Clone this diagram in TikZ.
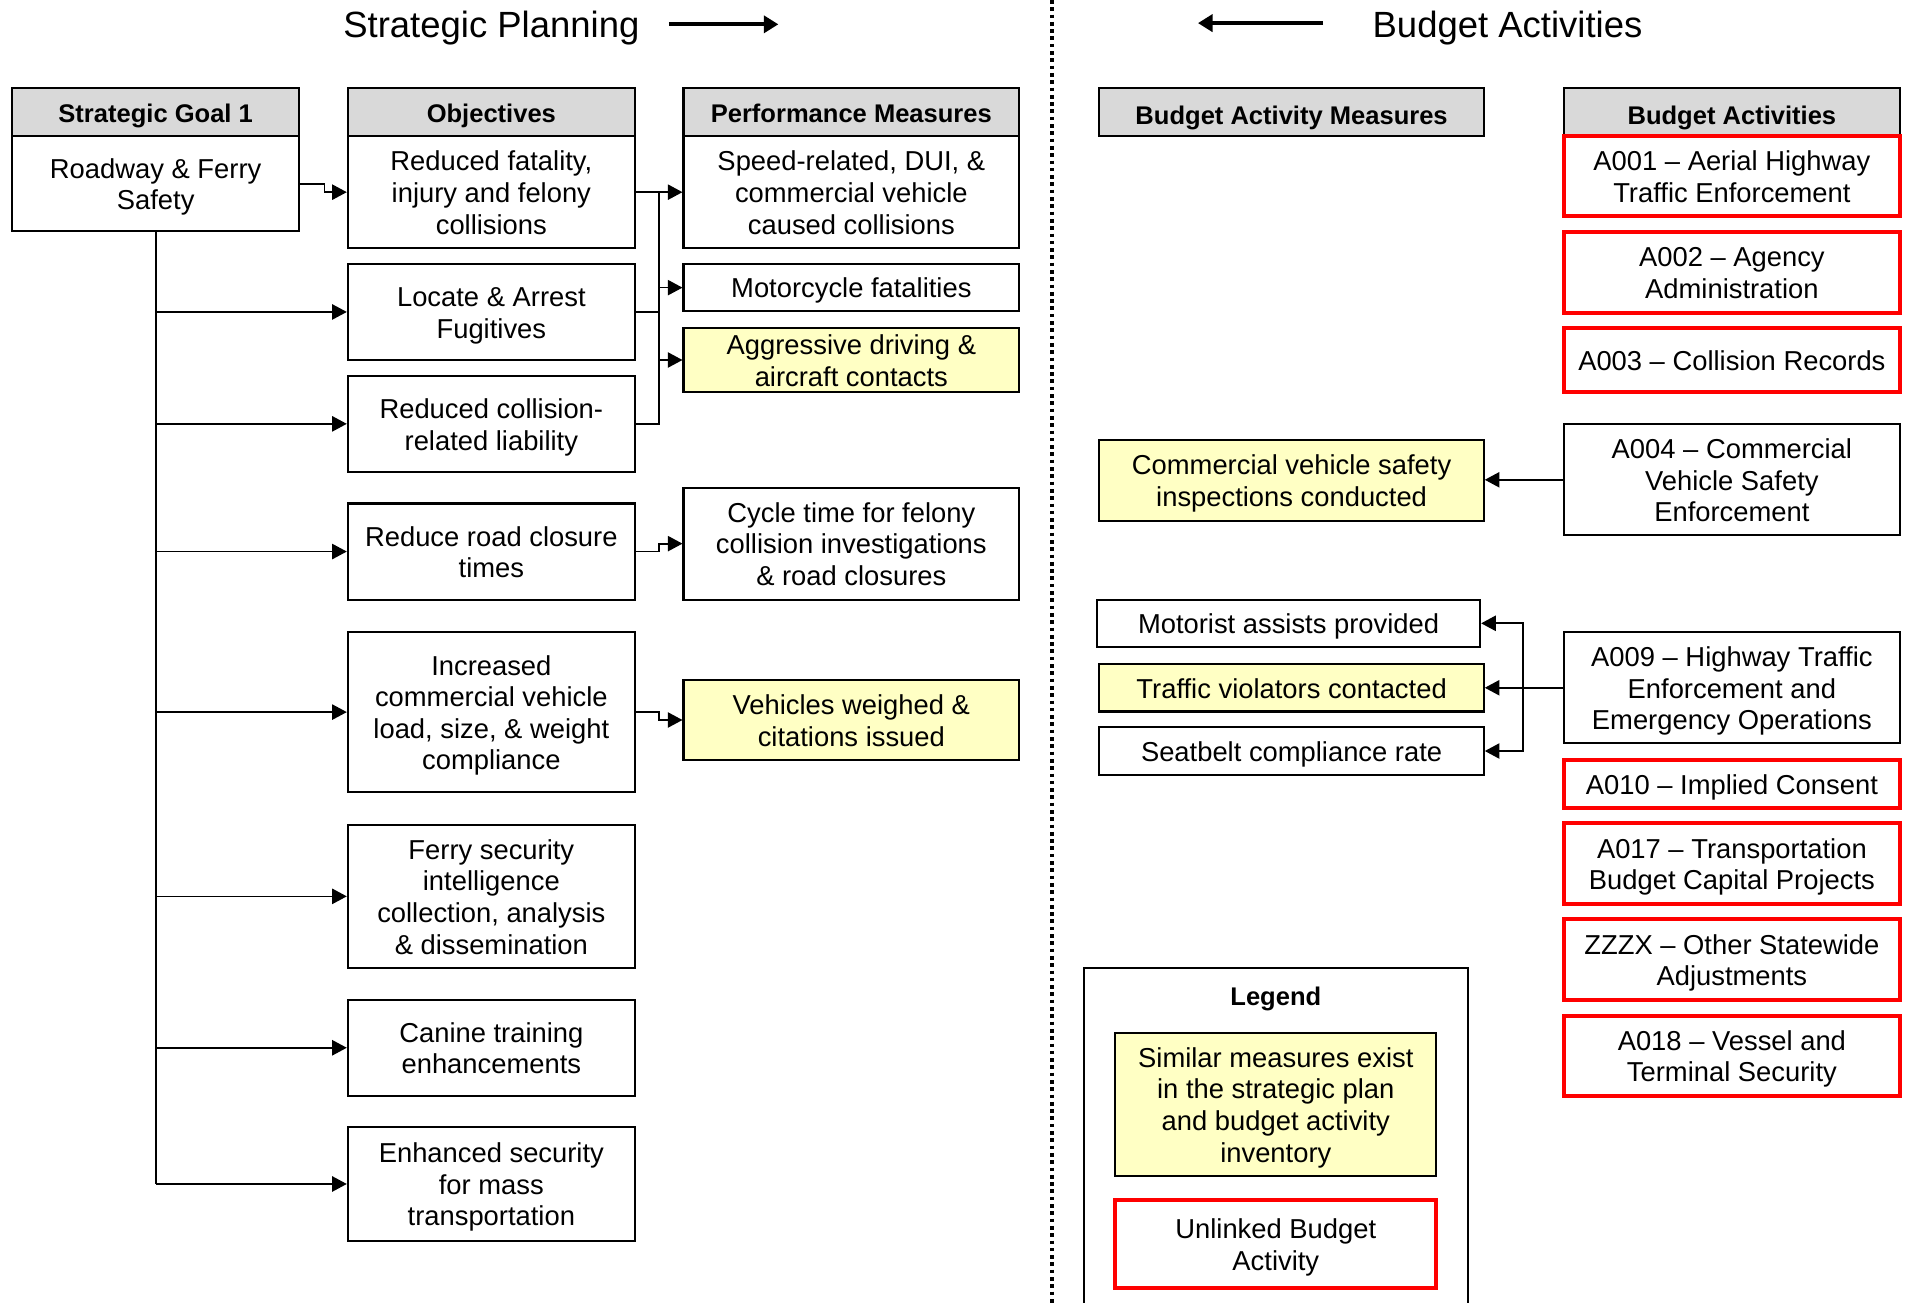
\documentclass[tikz,border=0pt]{standalone}
\usepackage{fontspec}
\setmainfont{Liberation Sans}
\usetikzlibrary{arrows.meta}
\definecolor{hdrgray}{HTML}{D9D9D9}
\definecolor{ylw}{HTML}{FFFFC4}
\definecolor{rd}{HTML}{FF0000}
\newcommand{\mystrut}{\rule{0pt}{22pt}}
\begin{document}
\begin{tikzpicture}[x=1pt,y=-1pt,
 box/.style={draw=black, line width=1.7pt, fill=white, inner sep=0pt, align=center, font=\fontsize{22.5}{26}\selectfont,
   execute at begin node={\mystrut}, execute at end node={\rule[-5pt]{0pt}{5pt}}},
 hdr/.style={box, fill=hdrgray, font=\bfseries\fontsize{21}{25}\selectfont},
 rhdr/.style={hdr, execute at begin node={\rule{0pt}{26pt}}},
 ybox/.style={box, fill=ylw},
 rbox/.style={box, draw=rd, line width=3.3pt},
 conn/.style={line width=1.4pt},
 arr/.style={conn, -{Triangle[length=12pt,width=12.5pt]}},
 ttl/.style={font=\fontsize{30}{34}\selectfont, inner sep=0pt},
 tarr/.style={line width=3.3pt, -{Triangle[length=12pt,width=14pt]}}]
\useasboundingbox (0,0) rectangle (1568,1071);
\fill[white] (0,0) rectangle (1568,1071);

% titles
\node[ttl] (tsp) at (404,23) {Strategic Planning};
\node[ttl] (tba) at (1239.5,23) {Budget Activities};
\coordinate (tspa) at (550,20); \coordinate (tspb) at (640,20);
\coordinate (tbaa) at (1088,19); \coordinate (tbab) at (985,19);
\draw[tarr] (tspa) -- (tspb);
\draw[tarr] (tbaa) -- (tbab);

% divider
\coordinate (dv1) at (865,0); \coordinate (dv2) at (865,1071);
\draw[line width=3pt, dash pattern=on 3pt off 3pt] (dv1) -- (dv2);

% left headers
\node[hdr, minimum width=236, minimum height=40] (gh) at (128,92) {Strategic Goal 1};
\node[box, minimum width=236, minimum height=78] (goal) at (128,151) {\mystrut Roadway \& Ferry\\Safety};
\node[hdr, minimum width=236, minimum height=40] (oh) at (404,92) {Objectives};
\node[hdr, minimum width=276, minimum height=40] (ph) at (700,92) {Performance Measures};

% objectives
\node[box, minimum width=236, minimum height=92] (o1) at (404,158) {\mystrut Reduced fatality,\\injury and felony\\collisions};
\node[box, minimum width=236, minimum height=79] (o2) at (404,256.5) {\mystrut Locate \& Arrest\\Fugitives};
\node[box, minimum width=236, minimum height=79] (o3) at (404,348.5) {\mystrut Reduced collision-\\related liability};
\node[box, minimum width=236, minimum height=79] (o4) at (404,453.5) {\mystrut Reduce road closure\\times};
\node[box, minimum width=236, minimum height=131] (o5) at (404,585.5) {\mystrut Increased\\commercial vehicle\\load, size, \& weight\\compliance};
\node[box, minimum width=236, minimum height=118] (o6) at (404,737) {\mystrut Ferry security\\intelligence\\collection, analysis\\\& dissemination};
\node[box, minimum width=236, minimum height=79] (o7) at (404,861.5) {\mystrut Canine training\\enhancements};
\node[box, minimum width=236, minimum height=93] (o8) at (404,973.5) {\mystrut Enhanced security\\for mass\\transportation};

% performance measures
\node[box, minimum width=276, minimum height=92] (p1) at (700,158) {\mystrut Speed-related, DUI, \&\\commercial vehicle\\caused collisions};
\node[box, minimum width=276, minimum height=39] (p2) at (700,236.5) {Motorcycle fatalities};
\node[ybox, minimum width=276, minimum height=52] (p3) at (700,296) {\mystrut Aggressive driving \&\\aircraft contacts};
\node[box, minimum width=276, minimum height=92] (p4) at (700,447) {\mystrut Cycle time for felony\\collision investigations\\\& road closures};
\node[ybox, minimum width=276, minimum height=66] (p5) at (700,592) {\mystrut Vehicles weighed \&\\citations issued};

% left connectors
\draw[arr] (goal.east) -- ++(20,0) |- (o1.west);
\draw[conn] (goal.south) -- (goal.south |- o8.west);
\foreach \o in {o2,o3,o4,o5,o6,o7,o8} {\draw[arr] (goal.south |- \o.west) -- (\o.west);}
\coordinate (busL) at (542,0);
\draw[arr] (o1.east) -- (p1.west);
\draw[conn] (o2.east) -- (o2.east -| busL);
\draw[conn] (o3.east) -| (o1.east -| busL);
\draw[arr] (p2.west -| busL) -- (p2.west);
\draw[arr] (p3.west -| busL) -- (p3.west);
\draw[arr] (o4.east) -- (o4.east -| busL) |- (p4.west);
\draw[arr] (o5.east) -- (o5.east -| busL) |- (p5.west);

% right headers
\node[rhdr, minimum width=316, minimum height=40] (bmh) at (1062,92) {Budget Activity Measures};
\node[rhdr, minimum width=276, minimum height=40] (bah) at (1424,92) {Budget Activities};

% budget activities
\node[rbox, minimum width=276, minimum height=66] (a001) at (1424,145) {\mystrut A001 \textendash{} Aerial Highway\\Traffic Enforcement};
\node[rbox, minimum width=276, minimum height=66] (a002) at (1424,224) {\mystrut A002 \textendash{} Agency\\Administration};
\node[rbox, minimum width=276, minimum height=52] (a003) at (1424,296) {A003 \textendash{} Collision Records};
\node[box, minimum width=276, minimum height=91] (a004) at (1424,394.5) {\mystrut A004 \textendash{} Commercial\\Vehicle Safety\\Enforcement};
\node[box, minimum width=276, minimum height=91] (a009) at (1424,565.5) {\mystrut A009 \textendash{} Highway Traffic\\Enforcement and\\Emergency Operations};
\node[rbox, minimum width=276, minimum height=39] (a010) at (1424,644.5) {A010 \textendash{} Implied Consent};
\node[rbox, minimum width=276, minimum height=66] (a017) at (1424,710) {\mystrut A017 \textendash{} Transportation\\Budget Capital Projects};
\node[rbox, minimum width=276, minimum height=66] (zzzx) at (1424,789) {\mystrut ZZZX \textendash{} Other Statewide\\Adjustments};
\node[rbox, minimum width=276, minimum height=66] (a018) at (1424,868) {\mystrut A018 \textendash{} Vessel and\\Terminal Security};

% budget activity measures
\node[ybox, minimum width=316, minimum height=66] (mcv) at (1062,395) {\mystrut Commercial vehicle safety\\inspections conducted};
\node[box, minimum width=315, minimum height=39] (mmot) at (1059.5,512.5) {Motorist assists provided};
\node[ybox, minimum width=316, minimum height=39] (mtra) at (1062,565.5) {Traffic violators contacted};
\node[box, minimum width=316, minimum height=39] (mseat) at (1062,617.5) {Seatbelt compliance rate};

% right connectors
\draw[arr] (a004.west) -- (a004.west -| mcv.east);
\draw[arr] (a009.west) -- (a009.west -| mtra.east);
\coordinate (busR) at (1252,0);
\draw[arr] (mtra.east -| busR) |- (mmot.east);
\draw[arr] (mtra.east -| busR) |- (mseat.east);

% legend
\coordinate (lg1) at (891,1071); \coordinate (lg2) at (891,796);
\coordinate (lg3) at (1207,796); \coordinate (lg4) at (1207,1071);
\draw[line width=1.7pt] (lg1) -- (lg2) -- (lg3) -- (lg4);
\node[font=\bfseries\fontsize{21}{25}\selectfont, inner sep=0pt] (lgt) at (1049,821) {Legend};
\node[ybox, minimum width=264, minimum height=118] (lgy) at (1049,908) {\mystrut Similar measures exist\\in the strategic plan\\and budget activity\\inventory};
\node[rbox, minimum width=264, minimum height=72] (lgr) at (1049,1023) {\mystrut Unlinked Budget\\Activity};
\end{tikzpicture}
\end{document}
